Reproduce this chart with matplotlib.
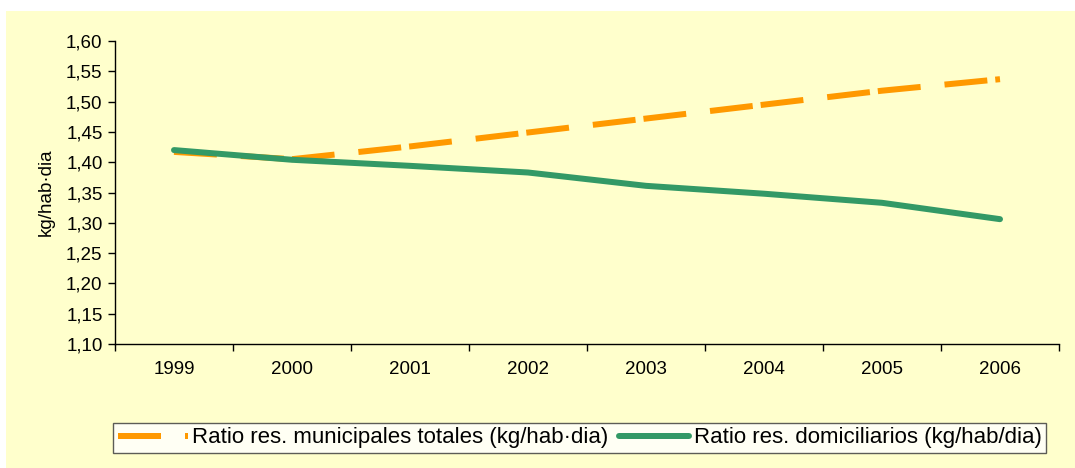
import matplotlib
matplotlib.use("Agg")
import matplotlib.pyplot as plt
from matplotlib.patches import Rectangle

plt.rcParams['font.family'] = ['Liberation Sans', 'DejaVu Sans']
plt.rcParams['lines.scale_dashes'] = False

years = ['1999', '2000', '2001', '2002', '2003', '2004', '2005', '2006']
ratio_totales = [1.417, 1.405, 1.426, 1.449, 1.472, 1.495, 1.518, 1.537]
ratio_domiciliarios = [1.420, 1.404, 1.394, 1.383, 1.361, 1.348, 1.333, 1.306]
label_totales = 'Ratio res. municipales totales (kg/hab·dia)'
label_domic = 'Ratio res. domiciliarios (kg/hab/dia)'
y_ticks = [1.10, 1.15, 1.20, 1.25, 1.30, 1.35, 1.40, 1.45, 1.50, 1.55, 1.60]

W, H = 1075, 468
fig = plt.figure(figsize=(W / 100, H / 100), dpi=100)
fig.patch.set_facecolor('white')
fig.patches.append(Rectangle((6 / W, 0), 1 - 6 / W, 1 - 11 / H, transform=fig.transFigure,
                             facecolor='#FFFFCC', edgecolor='none', zorder=-10))

ax = fig.add_axes([115 / W, 1 - 344 / H, (1059 - 115) / W, (344 - 41) / H])
ax.set_facecolor('none')

x = list(range(len(years)))
px = 0.72  # points per pixel at 100 dpi
ax.plot(x, ratio_totales, color='#FF9900', lw=6 * px, solid_capstyle='butt',
        dash_capstyle='butt', dashes=(43 * px, 24 * px, 43 * px, 8 * px),
        label=label_totales, zorder=3)
ax.plot(x, ratio_domiciliarios, color='#339966', lw=6 * px, solid_capstyle='round',
        solid_joinstyle='round', label=label_domic, zorder=4)

ax.set_xlim(-0.5, len(years) - 0.5)
ax.set_ylim(1.10, 1.60)
ax.set_yticks(y_ticks)
ax.set_yticklabels([f'{v:.2f}'.replace('.', ',') for v in y_ticks])
ax.set_xticks([i - 0.5 for i in range(len(years) + 1)])
ax.set_xticklabels([])
ax.set_xticks(x, minor=True)
ax.set_xticklabels(years, minor=True)
ax.tick_params(axis='x', which='minor', length=0, pad=12, labelsize=13.5)
ax.tick_params(axis='x', which='major', length=5, width=1, direction='out')
ax.tick_params(axis='y', length=5, width=1, direction='out', labelsize=13.5, pad=4)
for s in ['top', 'right']:
    ax.spines[s].set_visible(False)
for s in ['left', 'bottom']:
    ax.spines[s].set_linewidth(1)
ax.set_ylabel('kg/hab·dia', fontsize=13.5, labelpad=8)

leg = fig.legend(loc='center', bbox_to_anchor=(579.5 / W, 1 - 438 / H), ncol=2,
                 fontsize=16, frameon=True, fancybox=False, handlelength=3.15,
                 handletextpad=0.22, columnspacing=0.45, borderpad=0.2,
                 borderaxespad=0)
leg.get_frame().set_edgecolor('#333333')
leg.get_frame().set_linewidth(1)
leg.get_frame().set_facecolor('white')

fig.savefig('out.png', dpi=100)
